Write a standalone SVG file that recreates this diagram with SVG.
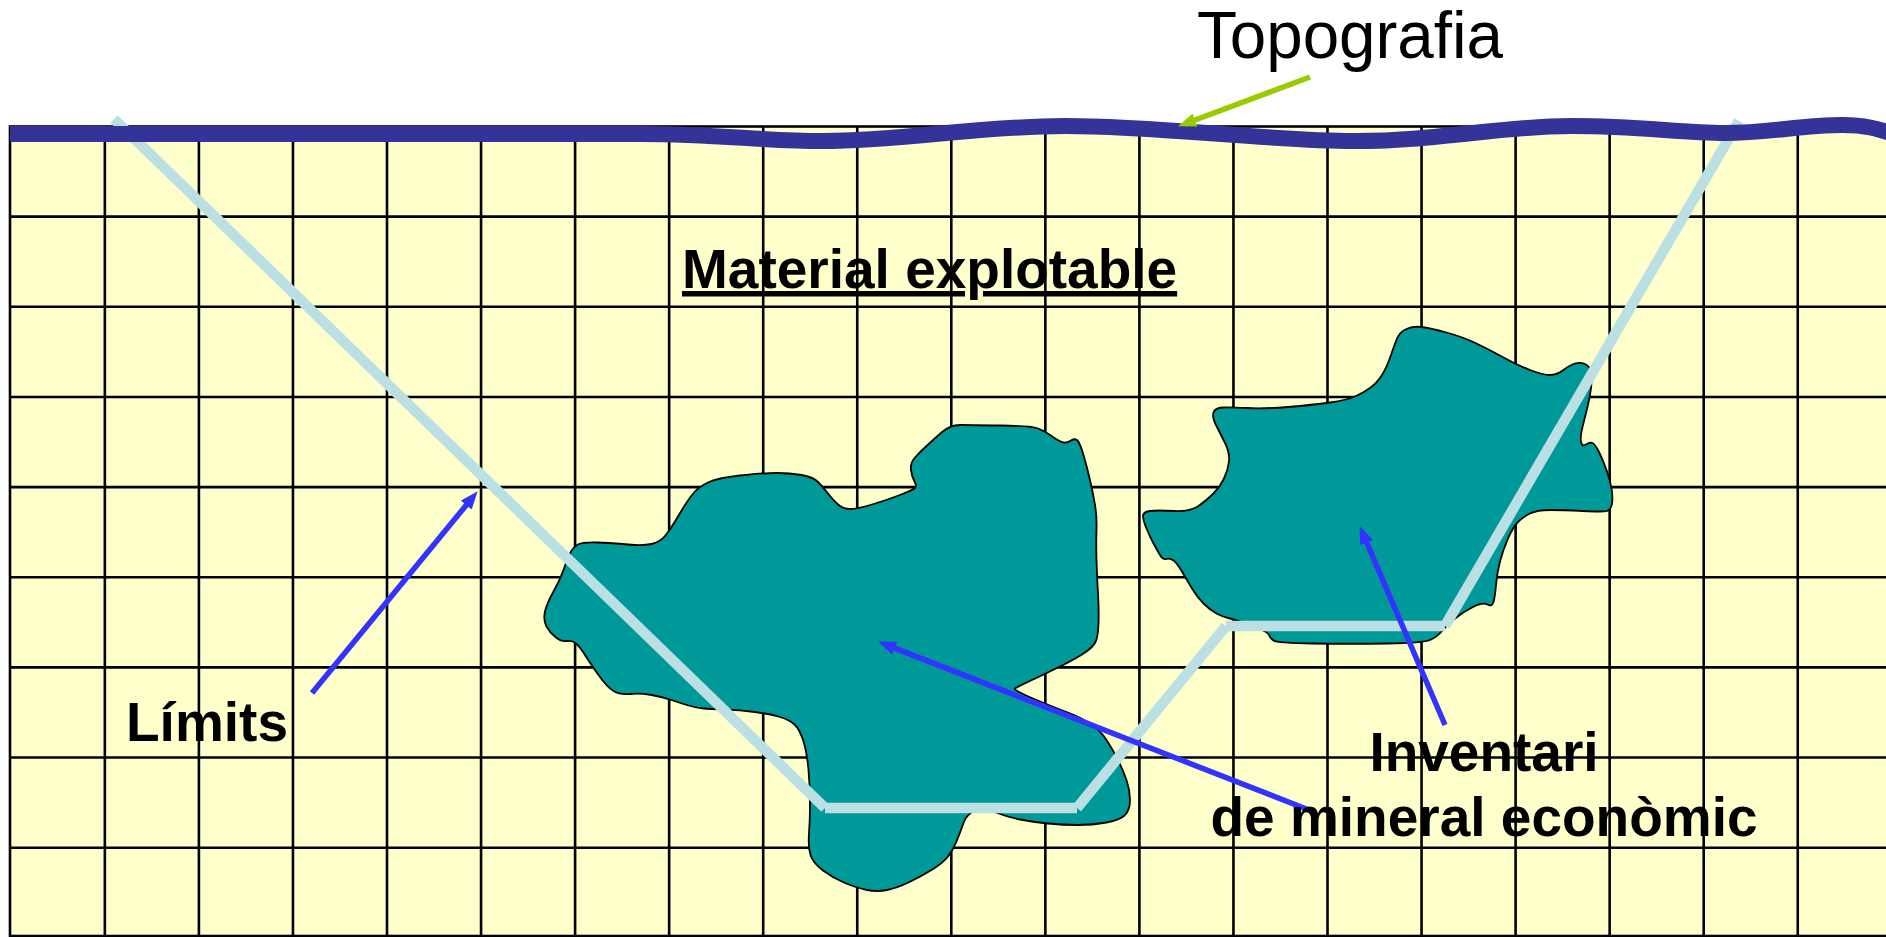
<svg xmlns="http://www.w3.org/2000/svg" width="1886" height="937" viewBox="0 0 1886 937">
  <style>
    .grid-bg { fill: #FFFFCC; stroke: #000; stroke-width: 2.6; }
    .grid-line { fill: none; stroke: #000; stroke-width: 2.6; }
    .ore { fill: #009999; stroke: #000; stroke-width: 1.8; stroke-linejoin: round; }
    .pit { stroke: #BBE0E3; stroke-width: 10.5; stroke-linecap: butt; fill: none; }
    .topo { fill: none; stroke: #333399; stroke-width: 16; stroke-linecap: butt; }
    .arrow-blue { fill: none; stroke: #3333FF; stroke-width: 5.5; marker-end: url(#head-blue); }
    .arrow-green { fill: none; stroke: #99CC00; stroke-width: 5.5; marker-end: url(#head-green); }
    .label { font-family: "Liberation Sans", Arial, sans-serif; fill: #000; }
    .bold { font-weight: bold; font-size: 55px; }
  </style>
  <defs>
    <marker id="head-blue" markerUnits="userSpaceOnUse" viewBox="0 0 18 14" markerWidth="18" markerHeight="14" refX="7" refY="7" orient="auto">
      <path d="M0,0 L18,7 L0,14 Z" fill="#3333FF"/>
    </marker>
    <marker id="head-green" markerUnits="userSpaceOnUse" viewBox="0 0 18 14" markerWidth="18" markerHeight="14" refX="7" refY="7" orient="auto">
      <path d="M0,0 L18,7 L0,14 Z" fill="#99CC00"/>
    </marker>
  </defs>

  <rect width="1886" height="937" fill="#FFFFFF"/>

  <!-- block model grid -->
  <g id="grid">
    <rect class="grid-bg" x="10" y="126.5" width="1890" height="809.5"/>
    <path class="grid-line" d="M104.85 126.5V936M198.9 126.5V936M292.95 126.5V936M387 126.5V936M481.05 126.5V936M575.1 126.5V936M669.15 126.5V936M763.2 126.5V936M857.25 126.5V936M951.3 126.5V936M1045.35 126.5V936M1139.4 126.5V936M1233.45 126.5V936M1327.5 126.5V936M1421.55 126.5V936M1515.6 126.5V936M1609.65 126.5V936M1703.7 126.5V936M1797.75 126.5V936"/>
    <path class="grid-line" d="M10 216.65H1886M10 306.8H1886M10 396.95H1886M10 487.1H1886M10 577.25H1886M10 667.4H1886M10 757.55H1886M10 847.7H1886"/>
  </g>

  <!-- ore bodies -->
  <g id="orebody-west">
    <path class="ore" d="M546.5 626.5 Q543 620 545 611.5 Q547 603 553.5 591.5 Q560 580 563.5 570 Q567 560 570 553.5 Q573 547 578 544.5 Q583 542 598 542.5 Q613 543 628 544.5 Q643 546 651.5 544 Q660 542 665 536 Q670 530 675 521.5 Q680 513 685 505 Q690 497 694.5 492 Q699 487 708 482.5 Q717 478 740 475.5 Q763 473 776.5 473 Q790 473 801.5 475 Q813 477 818 482 Q823 487 828 493.5 Q833 500 838 504.5 Q843 509 850 509 Q857 509 872 504.5 Q887 500 900 495 Q913 490 915 488 Q917 486 914.5 481.5 Q912 477 911 470 Q910 463 915 457.5 Q920 452 926.5 446 Q933 440 941.5 432.5 Q950 425 960 425 Q970 425 1000 425.5 Q1030 426 1036.5 428 Q1043 430 1051.5 436 Q1060 442 1063.5 442.5 Q1067 443 1071 440.5 Q1075 438 1077.5 440.5 Q1080 443 1083.5 455 Q1087 467 1090 480 Q1093 493 1095 505 Q1097 517 1096.5 530 Q1096 543 1096.5 560 Q1097 577 1098 593.5 Q1099 610 1098.5 623.5 Q1098 637 1095.5 642 Q1093 647 1085 652.5 Q1077 658 1062 665.5 Q1047 673 1032 680 Q1017 687 1015 688.5 Q1013 690 1033 698.5 Q1053 707 1066.5 712 Q1080 717 1090 723.5 Q1100 730 1106.5 740 Q1113 750 1118 760 Q1123 770 1126.5 780 Q1130 790 1130 800 Q1130 810 1125 815 Q1120 820 1106.5 822.5 Q1093 825 1078 825 Q1063 825 1048 823.5 Q1033 822 1020 819.5 Q1007 817 996 812.5 Q985 808 976 810.5 Q967 813 963.5 823 Q960 833 956.5 841.5 Q953 850 948 856.5 Q943 863 931.5 870 Q920 877 908.5 882.5 Q897 888 887 890 Q877 892 867 890 Q857 888 845 883 Q833 878 823 870.5 Q813 863 810.5 855 Q808 847 809 833.5 Q810 820 810 803.5 Q810 787 808.5 770 Q807 753 803.5 741.5 Q800 730 795 725 Q790 720 780 717 Q770 714 755 712 Q740 710 725 709.5 Q710 709 703.5 708.5 Q697 708 688.5 705.5 Q680 703 671.5 700 Q663 697 651.5 695 Q640 693 630 694 Q620 695 613.5 691 Q607 687 598.5 675 Q590 663 585 655 Q580 647 576 643.5 Q572 640 567 641 Q562 642 556 637.5 Q550 633 546.5 626.5 Z"/>
  </g>
  <g id="orebody-east">
    <path class="ore" d="M1397.5 337.5 Q1400 332 1406.5 329 Q1413 326 1421.5 327 Q1430 328 1446.5 332.5 Q1463 337 1476.5 343.5 Q1490 350 1503.5 357.5 Q1517 365 1530 370 Q1543 375 1550 375 Q1557 375 1563.5 370 Q1570 365 1575 363.5 Q1580 362 1585 364 Q1590 366 1591 373 Q1592 380 1591 388.5 Q1590 397 1587.5 407 Q1585 417 1582.5 427 Q1580 437 1581 442 Q1582 447 1586 444.5 Q1590 442 1592.5 443 Q1595 444 1599 452 Q1603 460 1606.5 470 Q1610 480 1611.5 488.5 Q1613 497 1612 503.5 Q1611 510 1607 511 Q1603 512 1583 511 Q1563 510 1550 510 Q1537 510 1530 513.5 Q1523 517 1518 522 Q1513 527 1508 538.5 Q1503 550 1500 561.5 Q1497 573 1496 585 Q1495 597 1493.5 602 Q1492 607 1487.5 604.5 Q1483 602 1473 607 Q1463 612 1455 618.5 Q1447 625 1442 631 Q1437 637 1430 640 Q1423 643 1386.5 643.5 Q1350 644 1313.5 643.5 Q1277 643 1273.5 640.5 Q1270 638 1269 635 Q1268 632 1252.5 626 Q1237 620 1230 618.5 Q1223 617 1216.5 613.5 Q1210 610 1203.5 603.5 Q1197 597 1192 588.5 Q1187 580 1182 571.5 Q1177 563 1173.5 560.5 Q1170 558 1166.5 559 Q1163 560 1160 555 Q1157 550 1153.5 543.5 Q1150 537 1146.5 528.5 Q1143 520 1143 516 Q1143 512 1150 511 Q1157 510 1173.5 511 Q1190 512 1198.5 506 Q1207 500 1213.5 493.5 Q1220 487 1224 478.5 Q1228 470 1229 461.5 Q1230 453 1225 443 Q1220 433 1216 425 Q1212 417 1213.5 412.5 Q1215 408 1222.5 407.5 Q1230 407 1246.5 408 Q1263 409 1288 407 Q1313 405 1330 402.5 Q1347 400 1355 396.5 Q1363 393 1370 388 Q1377 383 1382 375 Q1387 367 1391 355 Q1395 343 1397.5 337.5 Z"/>
  </g>

  <!-- final pit limit -->
  <g id="pit-limit">
    <line class="pit" x1="114" y1="119" x2="825" y2="808"/>
    <line class="pit" x1="825" y1="808" x2="1077" y2="808"/>
    <line class="pit" x1="1077" y1="808" x2="1226" y2="626"/>
    <line class="pit" x1="1226" y1="626" x2="1445" y2="626"/>
    <line class="pit" x1="1445" y1="626" x2="1739" y2="121"/>
  </g>

  <!-- ground surface -->
  <g id="topography">
    <path class="topo" d="M10 134 L640 134 C720 134 760 141 823 141 C900 141 980 126 1065 126 C1160 126 1270 141 1355 141 C1440 141 1500 126 1572 126 C1640 126 1680 133 1725 133 C1770 133 1800 125 1843 125 C1865 125 1878 129 1890 133"/>
  </g>

  <!-- leader arrows -->
  <g id="connectors">
    <line class="arrow-green" x1="1310" y1="77" x2="1188.4" y2="122.5"/>
    <line class="arrow-blue" x1="312" y1="693" x2="470.7" y2="499.7"/>
    <line class="arrow-blue" x1="1309" y1="810" x2="888.3" y2="645.6"/>
    <line class="arrow-blue" x1="1445" y1="725" x2="1363.9" y2="536.2"/>
  </g>

  <!-- labels -->
  <g id="label-topografia">
    <text class="label" x="1197" y="58" font-size="66" textLength="306" lengthAdjust="spacingAndGlyphs">Topografia</text>
  </g>
  <g id="label-material">
    <text class="label bold" x="682" y="288" text-decoration="underline">Material explotable</text>
  </g>
  <g id="label-limits">
    <text class="label bold" x="126" y="741">Límits</text>
  </g>
  <g id="label-inventari">
    <text class="label bold" x="1484" y="771" text-anchor="middle">Inventari</text>
    <text class="label bold" x="1484" y="836" text-anchor="middle">de mineral econòmic</text>
  </g>
</svg>
